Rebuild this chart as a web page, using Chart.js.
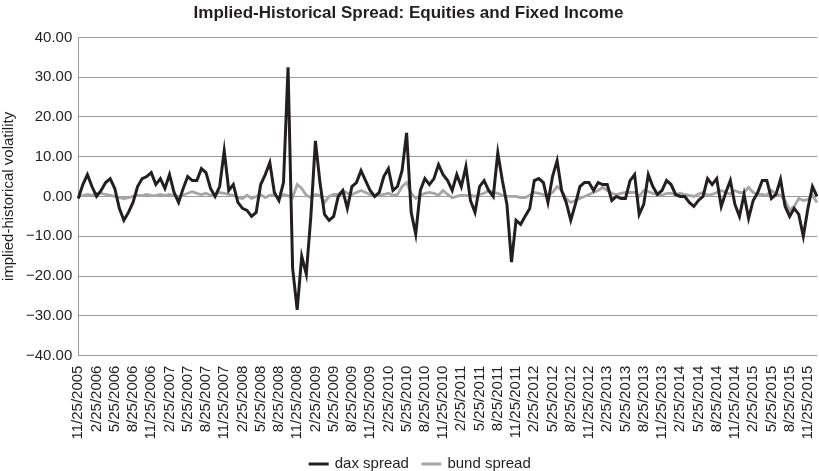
<!DOCTYPE html>
<html>
<head>
<meta charset="utf-8">
<script src="https://cdn.jsdelivr.net/npm/chart.js@4"></script>
<style>
  html, body { margin: 0; padding: 0; background: #fff; }
  #wrap { width: 819px; height: 471px; }
</style>
</head>
<body>
<div id="wrap"><canvas id="myChart" width="819" height="471"></canvas></div>
<script>
// quarterly tick labels, one every 4 data points
const quarterLabels = [
  '11/25/2005', '2/25/2006', '5/25/2006', '8/25/2006', '11/25/2006',
  '2/25/2007', '5/25/2007', '8/25/2007', '11/25/2007',
  '2/25/2008', '5/25/2008', '8/25/2008', '11/25/2008',
  '2/25/2009', '5/25/2009', '8/25/2009', '11/25/2009',
  '2/25/2010', '5/25/2010', '8/25/2010', '11/25/2010',
  '2/25/2011', '5/25/2011', '8/25/2011', '11/25/2011',
  '2/25/2012', '5/25/2012', '8/25/2012', '11/25/2012',
  '2/25/2013', '5/25/2013', '8/25/2013', '11/25/2013',
  '2/25/2014', '5/25/2014', '8/25/2014', '11/25/2014',
  '2/25/2015', '5/25/2015', '8/25/2015', '11/25/2015'
];

const daxSpread = [
  -0.5, 3, 5.5, 2.5, 0, 1.5, 3.5, 4.5, 2, -3, -6, -4, -1.5, 2.5, 4.5, 5, 6, 3, 4.5, 2,
  5.5, 1, -1.5, 2, 5, 4, 4, 7, 6, 2, 0, 2.5, 11.5, 1.5, 3, -1.5, -3, -3.5, -5, -4,
  3, 5.5, 8.5, 1, -1, 3.5, 32.5, -18, -28.5, -15, -19.5, -5, 14, 3.5, -4.5, -6, -5, 0, 1.5, -3,
  2.5, 3.5, 6.5, 4, 1.5, 0, 1, 5, 7, 1.5, 2.5, 6.5, 16, -4, -9.5, 1.5, 4.5, 3, 4.5, 8,
  5.5, 4, 1.5, 5.5, 2.5, 7.5, -1, -4, 2.5, 4, 1.5, 0, 11, 4, -2, -16.5, -6, -7, -5, -3,
  4, 4.5, 3.5, -1.5, 5, 9, 1.5, -1.5, -6, -2, 2.5, 3.5, 3.5, 1.5, 3.5, 3, 3, -1, 0, -0.5,
  -0.5, 4, 5.5, -4.5, -2, 5.5, 2.5, 0.5, 1.5, 4, 3, 0.5, 0, 0, -1.5, -2.5, -1, 0, 4.5, 3,
  4.5, -2.5, 1, 4, -2, -5, 0.5, -5.5, -1, 1, 4, 4, -0.5, 0.5, 4.3, -2.5, -5, -3, -4.5, -10,
  -3, 2.5, 0
];

const bundSpread = [
  0, 0.2, 0.5, 0.3, 0.8, 0.8, 0.5, 0.3, 0, -0.3, -0.5, -0.3, 0, 0.3, 0.2, 0.5, 0.3, 0.2, 0.5, 0.3,
  0.5, 0.2, 0, 0.3, 0.8, 1.2, 0.8, 0.5, 0.8, 0.3, 0.5, 1, 0.8, 0.5, 0.3, -0.3, -0.5, 0.3, -0.5, 0,
  0.5, -0.3, 0.3, 0.5, -0.5, 0.5, 0.2, -0.3, 3, 2, 0.3, -0.3, 0.5, 0.3, -1.5, 0, 0.5, 0.5, 1.5, 0.8,
  0.5, 1, 1.5, 1, 0.5, 0.2, 0.3, 0.5, 0.8, 0.3, 0.5, 2.5, 3.5, 0.8, -0.5, 0.3, 0.8, 1, 0.8, 0.3,
  1.5, 0.5, -0.3, 0, 0.3, 0.2, 0.3, 0, 0.5, 0.8, 1.5, 1, 0.8, 0.3, 0, 0, 0, -0.3, -0.3, 0.3,
  1, 0.8, 0.5, 0.3, 1, 2.5, 1.5, -0.5, -1.5, -1, -0.5, 0, 0.5, 1, 1.5, 2.3, 1.5, 0.8, 0.5, 0.8,
  1, 1, 1, 0, 1.5, 1.2, 0.8, 0.5, 0.3, 0.8, 0.8, 0.5, 0.8, 0.5, 0.3, 0, 0.6, 1, 0.3, 0.5,
  1, 1.5, 1, 0.6, 1.5, 1, 1, 2.3, 1, 0.6, 0.5, 0.3, 1.5, 0.6, 0.3, -1, -3.5, -2.5, -0.5, -1,
  -0.8, 0.3, -1.5
];

const labels = daxSpread.map((v, i) => (i % 4 === 0 && quarterLabels[i / 4]) ? quarterLabels[i / 4] : '');

const fontFam = '"Liberation Sans", Arial, Helvetica, sans-serif';
const ink = '#231f20';

// the source legend sits a little right of centre and tight under the dates
const legendShift = {
  id: 'legendShift',
  afterLayout(chart) {
    const lg = chart.legend;
    lg.left += 12;
    lg.right += 12;
    lg.top -= 7;
    lg.bottom -= 7;
  }
};

const ctx = document.getElementById('myChart');

new Chart(ctx, {
  type: 'line',
  data: {
    labels: labels,
    datasets: [{
      label: 'dax spread',
      data: daxSpread,
      borderColor: ink,
      backgroundColor: ink,
      borderWidth: 3,
      pointRadius: 0,
      tension: 0
    }, {
      label: 'bund spread',
      data: bundSpread,
      borderColor: '#a6a6a6',
      backgroundColor: '#a6a6a6',
      borderWidth: 2.8,
      pointRadius: 0,
      tension: 0
    }]
  },
  plugins: [legendShift],
  options: {
    responsive: false,
    animation: false,
    devicePixelRatio: 1,
    layout: { padding: { left: 0, right: 2, top: 0, bottom: -17.5 } },
    plugins: {
      title: {
        display: true,
        text: 'Implied-Historical Spread: Equities and Fixed Income',
        color: ink,
        font: { family: fontFam, size: 17, weight: 'bold' },
        padding: { top: 3, bottom: 14 }
      },
      legend: {
        position: 'bottom',
        labels: {
          color: ink,
          font: { family: fontFam, size: 15 },
          boxWidth: 17,
          boxHeight: 0.1,
          padding: 14
        }
      },
      tooltip: { enabled: false }
    },
    scales: {
      x: {
        grid: { display: false, drawTicks: false },
        border: { display: false },
        afterFit: s => { s.paddingLeft = 0; s.paddingRight = 0; },
        ticks: {
          autoSkip: false,
          maxRotation: 90,
          minRotation: 90,
          padding: 10,
          color: ink,
          font: { family: fontFam, size: 15 },
          callback: function (value) { return this.getLabelForValue(value); }
        }
      },
      y: {
        min: -40,
        max: 40,
        title: {
          display: true,
          text: 'implied-historical volatility',
          color: ink,
          font: { family: fontFam, size: 15 },
          padding: { top: 0, bottom: 2 }
        },
        grid: { color: '#9a9a9a', lineWidth: 1, drawTicks: false },
        border: { display: true, color: '#9a9a9a' },
        ticks: {
          stepSize: 10,
          padding: 6,
          color: ink,
          font: { family: fontFam, size: 15 },
          callback: v => (v < 0 ? '\u2212' : '') + Math.abs(v).toFixed(2)
        }
      }
    }
  }
});
</script>
</body>
</html>
